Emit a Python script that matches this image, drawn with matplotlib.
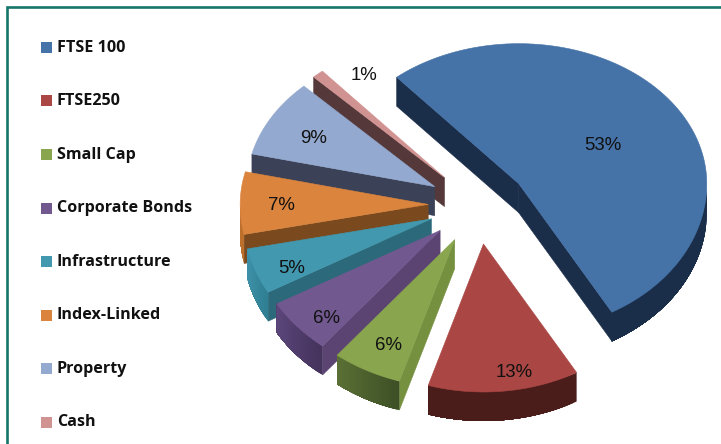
import numpy as np
import matplotlib
matplotlib.use('Agg')
import matplotlib.pyplot as plt
from matplotlib.colors import to_rgb
from matplotlib.patches import Polygon, Rectangle

# portfolio split
categories = ['FTSE 100', 'FTSE250', 'Small Cap', 'Corporate Bonds',
              'Infrastructure', 'Index-Linked', 'Property', 'Cash']
shares = [53, 13, 6, 6, 5, 7, 9, 1]

top_colors = ['#4572a7', '#aa4643', '#89a54e', '#71588f',
              '#4198af', '#db843d', '#93a9cf', '#d19392']
wall_colors = ['#1a2d49', '#4a1c1a', '#75903f', '#5b4472',
               '#2c6a7b', '#7a4a1e', '#3b4258', '#55393a']
# rim shading, left end then right end on screen
rim_colors = [('#1a2d49', '#1a2d49'), ('#4a1c1a', '#4a1c1a'),
              ('#5b7035', '#3d5026'), ('#5c467b', '#44335c'),
              ('#3f93aa', '#2f7f93'), ('#bd6f2c', '#bd6f2c'),
              ('#3b4258', '#3b4258'), ('#55393a', '#55393a')]

label_xy = [(603, 145), (514, 372), (388, 345), (326, 318),
            (292, 268), (281, 205), (314, 138), (364, 76)]

'''pie geometry, in pixels'''
cx, cy = 478, 205
rx = 188
ry_back, ry_front = 140, 148  # front of the pie looks larger in perspective
depth = 29
explode = 0.265
start_angle = -40.5


def offset(ang, scale=1.0):
    a = np.radians(ang)
    ry = ry_back if np.cos(a) > 0 else ry_front
    return np.array([scale * rx * np.sin(a), -scale * ry * np.cos(a)])


def lerp_color(c1, c2, t):
    return tuple((1 - t) * np.array(to_rgb(c1)) + t * np.array(to_rgb(c2)))


def add_poly(pts, color, lw=0.4):
    ax.add_patch(Polygon(pts, closed=True, facecolor=color, edgecolor=color, linewidth=lw))


def draw_wall(apex, p, mid, color):
    # only walls facing down are visible
    d = p - apex
    n = np.array([-d[1], d[0]])
    if np.dot(n, mid - apex) > 0:
        n = -n
    if n[1] <= 0:
        return
    down = np.array([0, depth])
    add_poly([apex, p, p + down, apex + down], color)


def draw_slice(i, a0, a1):
    mid_ang = (a0 + a1) / 2
    apex = np.array([cx, cy]) + offset(mid_ang, explode)
    mid = apex + offset(mid_ang)

    draw_wall(apex, apex + offset(a0), mid, wall_colors[i])
    draw_wall(apex, apex + offset(a1), mid, wall_colors[i])

    # outer rim, lower half of the ellipse only
    lo, hi = max(a0, 90), min(a1, 270)
    if hi > lo:
        steps = np.linspace(lo, hi, 41)
        left, right = rim_colors[i]
        down = np.array([0, depth])
        # each band runs to the far end so no seams show between them
        for k in range(40):
            arc = [apex + offset(a) for a in steps[k:]]
            col = lerp_color(right, left, k / 39)
            pts = arc + [p + down for p in arc[::-1]]
            ax.add_patch(Polygon(pts, closed=True, facecolor=col, edgecolor='none'))

    arc = [apex + offset(a) for a in np.linspace(a0, a1, 120)]
    add_poly([apex] + arc, top_colors[i])


fig = plt.figure(figsize=(7.21, 4.44), dpi=100)
ax = fig.add_axes([0, 0, 1, 1])
ax.set_xlim(0, 721)
ax.set_ylim(444, 0)
ax.axis('off')

# frame, open on the right and at the bottom
ax.plot([6.5, 6.5, 721], [444, 7.5, 7.5], color='#17756a', linewidth=1.9,
        solid_joinstyle='miter')

edges = start_angle + np.concatenate([[0], np.cumsum(shares)]) * 3.6

# back slices first, the big slice last
for i in [7, 6, 5, 4, 3, 2, 1, 0]:
    draw_slice(i, edges[i], edges[i + 1])

for i in range(len(shares)):
    ax.text(label_xy[i][0], label_xy[i][1], str(shares[i]) + '%', family='Liberation Sans',
            fontsize=13.4, color='#111111', ha='center', va='center')

# legend
y = 47.5
for name, color in zip(categories, top_colors):
    ax.add_patch(Rectangle((41, y - 5.5), 11, 11, facecolor=color, edgecolor='none'))
    ax.text(57, y, name, family='Open Sans', fontweight='bold', fontsize=11.6,
            color='#111111', ha='left', va='center')
    y += 53.5

fig.savefig('out.png', dpi=100)
